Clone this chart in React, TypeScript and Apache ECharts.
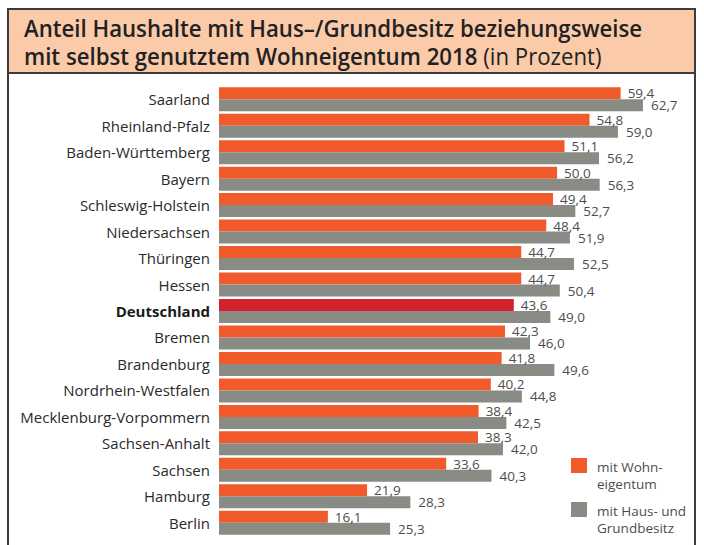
import React, { useEffect, useRef } from "react";
import * as echarts from "echarts";

const categories = [
  "Saarland",
  "Rheinland-Pfalz",
  "Baden-Württemberg",
  "Bayern",
  "Schleswig-Holstein",
  "Niedersachsen",
  "Thüringen",
  "Hessen",
  "Deutschland",
  "Bremen",
  "Brandenburg",
  "Nordrhein-Westfalen",
  "Mecklenburg-Vorpommern",
  "Sachsen-Anhalt",
  "Sachsen",
  "Hamburg",
  "Berlin",
];
const wohneigentum = [59.4, 54.8, 51.1, 50.0, 49.4, 48.4, 44.7, 44.7, 43.6, 42.3, 41.8, 40.2, 38.4, 38.3, 33.6, 21.9, 16.1];
const hausGrund = [62.7, 59.0, 56.2, 56.3, 52.7, 51.9, 52.5, 50.4, 49.0, 46.0, 49.6, 44.8, 42.5, 42.0, 40.3, 28.3, 25.3];
const seriesNames = ["mit Wohn-\neigentum", "mit Haus- und\nGrundbesitz"];
const titleLine1 = "Anteil Haushalte mit Haus–/Grundbesitz beziehungsweise";
const titleLine2a = "mit selbst genutztem Wohneigentum 2018 ";
const titleLine2b = "(in Prozent)";
const highlight = "Deutschland";

const ORANGE = "#f15a2b";
const GRAY = "#898c84";
const RED = "#d2222b";
const FONT = "'Open Sans', 'Noto Sans', sans-serif";

function measure(text: string, font: string): number {
  const c = document.createElement("canvas").getContext("2d");
  if (!c) return text.length * 12;
  c.font = font;
  return c.measureText(text).width;
}

export default function App() {
  const ref = useRef<HTMLDivElement>(null);
  useEffect(() => {
    if (!ref.current) return;
    const chart = echarts.init(ref.current, null, { renderer: "svg" });
    const tFont = `600 23px 'Open Sans'`;
    const w1 = measure(titleLine1, tFont);
    const sx = 618 / w1;
    const fmt = (p: any) => Number(p.value).toFixed(1).replace(".", ",");
    chart.setOption({
      animation: false,
      grid: { left: 219, top: 86, height: 450, width: 473.3, containLabel: false },
      xAxis: {
        type: "value",
        min: 0,
        max: 70,
        show: false,
      },
      yAxis: {
        type: "category",
        data: categories,
        inverse: true,
        axisLine: { show: false },
        axisTick: { show: false },
        axisLabel: {
          margin: 9,
          fontFamily: FONT,
          fontSize: 15,
          color: "#2a2a2a",
          formatter: (v: string) => (v === highlight ? `{b|${v}}` : v),
          rich: { b: { fontFamily: FONT, fontSize: 15, fontWeight: "bold", color: "#1a1a1a" } },
        },
      },
      series: [
        {
          name: seriesNames[0],
          type: "bar",
          barWidth: 12,
          barGap: "0%",
          data: wohneigentum.map((v, i) =>
            categories[i] === highlight ? { value: v, itemStyle: { color: RED } } : v
          ),
          itemStyle: { color: ORANGE },
          label: { show: true, position: "right", distance: 7, formatter: fmt, fontFamily: FONT, fontSize: 13.5, color: "#4d4d4d" },
        },
        {
          name: seriesNames[1],
          type: "bar",
          barWidth: 12,
          barGap: "0%",
          data: hausGrund,
          itemStyle: { color: GRAY },
          label: { show: true, position: "right", distance: 8, formatter: fmt, fontFamily: FONT, fontSize: 13.5, color: "#4d4d4d" },
        },
      ],
      graphic: [
        {
          type: "rect",
          shape: { x: 8, y: 9, width: 687, height: 64 },
          style: { fill: "#fbcaa9", stroke: "#3c3c3c", lineWidth: 2 },
          z: -1,
        },
        { type: "line", shape: { x1: 8, y1: 73, x2: 8, y2: 545 }, style: { stroke: "#3c3c3c", lineWidth: 2 } },
        { type: "line", shape: { x1: 695, y1: 73, x2: 695, y2: 545 }, style: { stroke: "#3c3c3c", lineWidth: 2 } },
        {
          type: "text",
          x: 24,
          y: 28,
          scaleX: sx,
          style: { x: 0, y: 0, text: titleLine1, font: tFont, fill: "#222", verticalAlign: "middle" },
        },
        {
          type: "text",
          x: 24,
          y: 56,
          scaleX: sx,
          style: {
            x: 0,
            y: 0,
            text: `{a|${titleLine2a}}{b|${titleLine2b}}`,
            verticalAlign: "middle",
            rich: {
              a: { fontFamily: "Open Sans", fontWeight: 600, fontSize: 23, fill: "#222" },
              b: { fontFamily: "Open Sans", fontWeight: 400, fontSize: 23, fill: "#222" },
            },
          },
        },
        { type: "rect", shape: { x: 571, y: 458, width: 16, height: 15 }, style: { fill: ORANGE } },
        { type: "rect", shape: { x: 571, y: 502, width: 16, height: 15 }, style: { fill: GRAY } },
        {
          type: "text",
          x: 597,
          y: 458,
          style: { x: 0, y: 0, text: seriesNames[0], fontFamily: FONT, fontSize: 13.5, lineHeight: 17, fill: "#4d4d4d" },
        },
        {
          type: "text",
          x: 597,
          y: 502,
          style: { x: 0, y: 0, text: seriesNames[1], fontFamily: FONT, fontSize: 13.5, lineHeight: 17, fill: "#4d4d4d" },
        },
      ],
    });
    return () => chart.dispose();
  }, []);
  return (
    <div
      ref={ref}
      style={{ position: "fixed", left: 0, top: 0, width: 704, height: 545, background: "#fff" }}
    />
  );
}
